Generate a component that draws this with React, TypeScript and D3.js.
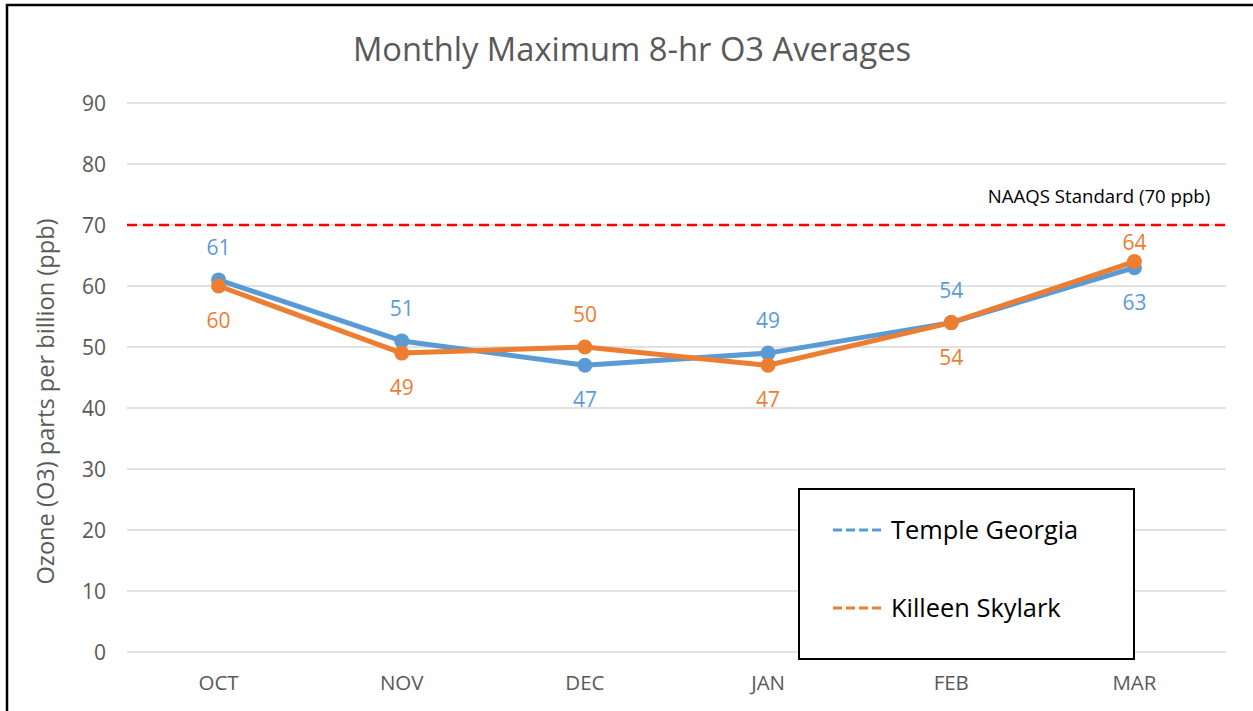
import React, { useRef, useEffect } from 'react';
import * as d3 from 'd3';

const months = ['OCT', 'NOV', 'DEC', 'JAN', 'FEB', 'MAR'];
const templeGeorgia = [61, 51, 47, 49, 54, 63];
const killeenSkylark = [60, 49, 50, 47, 54, 64];
const yTicks = [0, 10, 20, 30, 40, 50, 60, 70, 80, 90];
const standard = 70;

const FONT = '"Open Sans", "Noto Sans", sans-serif';
const BLUE = '#5B9BD5';
const ORANGE = '#ED7D31';

const App = () => {
  const svgRef = useRef<SVGSVGElement>(null);

  useEffect(() => {
    const width = 1253;
    const height = 711;
    const left = 127;
    const right = 1226;
    const top = 103;
    const bottom = 652;

    const svg = d3.select(svgRef.current);
    svg.selectAll('*').remove();
    svg.attr('width', width).attr('height', height);

    svg.append('rect').attr('width', width).attr('height', height).attr('fill', '#fff');
    // outer frame (cropped on right and bottom)
    svg
      .append('path')
      .attr('d', `M7,${height + 5}V5H${width + 5}`)
      .attr('fill', 'none')
      .attr('stroke', '#000')
      .attr('stroke-width', 2.5);

    const x = d3.scalePoint<string>().domain(months).range([left, right]).padding(0.5);
    const y = d3.scaleLinear().domain([0, 90]).range([bottom, top]);

    svg
      .append('text')
      .attr('x', 632)
      .attr('y', 61)
      .attr('text-anchor', 'middle')
      .attr('font-family', FONT)
      .attr('font-size', 32.7)
      .attr('fill', '#595959')
      .text('Monthly Maximum 8-hr O3 Averages');

    // gridlines
    svg
      .append('g')
      .selectAll('line')
      .data(yTicks)
      .join('line')
      .attr('x1', left)
      .attr('x2', right)
      .attr('y1', (d) => y(d))
      .attr('y2', (d) => y(d))
      .attr('stroke', '#d9d9d9')
      .attr('stroke-width', 1.5);

    svg
      .append('g')
      .selectAll('text')
      .data(yTicks)
      .join('text')
      .attr('x', 106)
      .attr('y', (d) => y(d) + 7.5)
      .attr('text-anchor', 'end')
      .attr('font-family', FONT)
      .attr('font-size', 21)
      .attr('fill', '#595959')
      .text((d) => d);

    svg
      .append('g')
      .selectAll('text')
      .data(months)
      .join('text')
      .attr('x', (d) => x(d)!)
      .attr('y', 690)
      .attr('text-anchor', 'middle')
      .attr('font-family', FONT)
      .attr('font-size', 20.5)
      .attr('fill', '#595959')
      .text((d) => d);

    svg
      .append('text')
      .attr('transform', `translate(54,${(top + bottom) / 2 + 24}) rotate(-90)`)
      .attr('text-anchor', 'middle')
      .attr('font-family', FONT)
      .attr('font-size', 23.6)
      .attr('fill', '#595959')
      .text('Ozone (O3) parts per billion (ppb)');

    // NAAQS standard line
    svg
      .append('line')
      .attr('x1', left)
      .attr('x2', right)
      .attr('y1', y(standard))
      .attr('y2', y(standard))
      .attr('stroke', '#FF0000')
      .attr('stroke-width', 2.5)
      .attr('stroke-dasharray', '10,6');

    svg
      .append('text')
      .attr('x', 1099)
      .attr('y', y(standard) - 22)
      .attr('text-anchor', 'middle')
      .attr('font-family', FONT)
      .attr('font-size', 18.6)
      .attr('fill', '#000')
      .text('NAAQS Standard (70 ppb)');

    const series = [
      { name: 'Temple Georgia', values: templeGeorgia, other: killeenSkylark, color: BLUE, tieUp: true },
      { name: 'Killeen Skylark', values: killeenSkylark, other: templeGeorgia, color: ORANGE, tieUp: false },
    ];

    const line = d3
      .line<number>()
      .x((d, i) => x(months[i])!)
      .y((d) => y(d));

    series.forEach((s) => {
      const g = svg.append('g');
      g.append('path')
        .attr('d', line(s.values))
        .attr('fill', 'none')
        .attr('stroke', s.color)
        .attr('stroke-width', 5)
        .attr('stroke-linejoin', 'round');
      g.selectAll('circle')
        .data(s.values)
        .join('circle')
        .attr('cx', (d, i) => x(months[i])!)
        .attr('cy', (d) => y(d))
        .attr('r', 7.5)
        .attr('fill', s.color);
    });

    // labels: higher value above, lower below; keep clear of the standard line
    const capH = 15;
    series.forEach((s) => {
      svg
        .append('g')
        .selectAll('text')
        .data(s.values)
        .join('text')
        .attr('x', (d, i) => x(months[i])!)
        .attr('y', (d, i) => {
          const up = d > s.other[i] || (d === s.other[i] && s.tieUp);
          if (!up) return y(d) + 42;
          const base = y(d) - 25;
          const clear = y(standard) + 10 + capH;
          return base - capH < y(standard) + 10 ? Math.max(base, clear) : base;
        })
        .attr('text-anchor', 'middle')
        .attr('font-family', FONT)
        .attr('font-size', 21)
        .attr('fill', s.color)
        .text((d) => d);
    });

    // legend
    const lg = svg.append('g').attr('transform', 'translate(799,489)');
    lg.append('rect')
      .attr('width', 335)
      .attr('height', 170)
      .attr('fill', '#fff')
      .attr('stroke', '#000')
      .attr('stroke-width', 2);
    series.forEach((s, i) => {
      const ly = 41 + i * 78;
      lg.append('line')
        .attr('x1', 34)
        .attr('x2', 84)
        .attr('y1', ly)
        .attr('y2', ly)
        .attr('stroke', s.color)
        .attr('stroke-width', 3)
        .attr('stroke-dasharray', '9,4');
      lg.append('text')
        .attr('x', 92)
        .attr('y', ly + 8.5)
        .attr('font-family', FONT)
        .attr('font-size', 25.4)
        .attr('fill', '#000')
        .text(s.name);
    });
  }, []);

  return (
    <div>
      <svg ref={svgRef} style={{ position: 'absolute', left: 0, top: 0 }}></svg>
    </div>
  );
};

export default App;
